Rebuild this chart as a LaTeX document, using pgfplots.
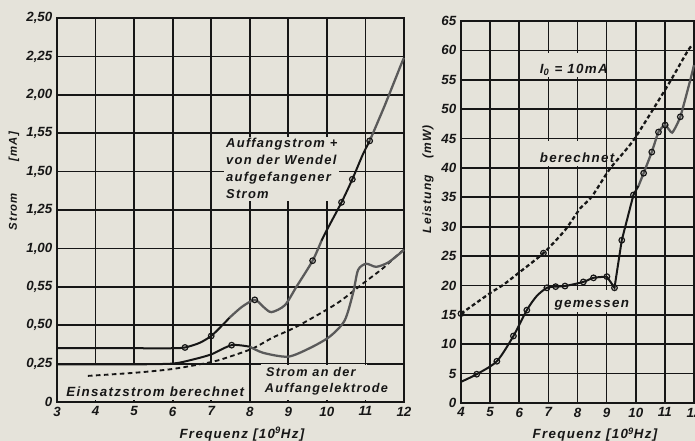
\documentclass[border=0pt]{standalone}
\usepackage{fontspec}
\setmainfont{Liberation Sans}
\usepackage{pgfplots}
\pgfplotsset{compat=1.18}
\definecolor{paper}{RGB}{229,227,218}
\definecolor{ink}{RGB}{22,22,22}
\definecolor{faded}{RGB}{90,90,90}
\newcommand{\lf}[2]{\fontsize{#1}{#2}\selectfont\bfseries\itshape\addfontfeature{LetterSpace=10}}
\begin{document}
\begin{tikzpicture}[x=1pt,y=1pt]
\useasboundingbox (-42.75pt,-29.25pt) rectangle (478.5pt,301.5pt);
\fill[paper] (-42.75pt,-29.25pt) rectangle (478.5pt,301.5pt);
\pgfplotsset{
  every axis/.append style={
    scale only axis, anchor=south west,
    axis line style={line width=1.6pt, ink},
    grid=major, major grid style={line width=1.3pt, ink},
    major tick length=0pt,
    tick label style={font=\fontsize{10}{12}\selectfont\bfseries\itshape, text=ink},
    /pgf/number format/assume math mode=true,
    clip=false,
  },
  curve/.style={line width=1.5pt, ink, smooth, tension=0.45},
  fcurve/.style={line width=1.7pt, faded, smooth, tension=0.45},
  rings/.style={only marks, mark=o, mark size=2.1pt, mark options={line width=0.9pt, draw=ink, fill=paper}},
}
% ---------------- left panel ----------------
\begin{axis}[at={(0pt,0pt)}, width=260.25pt, height=288pt,
  xmin=3, xmax=12, ymin=0, ymax=2.5,
  xtick={3,4,5,6,7,8,9,10,11,12},
  ytick={0,0.25,0.5,0.75,1,1.25,1.5,1.75,2,2.25,2.5},
  yticklabels={0,{0,25},{0,50},{0,55},{1,00},{1,25},{1,50},{1,55},{2,00},{2,25},{2,50}},
  xlabel={Frequenz [10\textsuperscript{9}Hz]},
  xlabel style={at={(axis description cs:0.533,-0.083)}, anchor=center, font=\lf{10}{12}, text=ink},
  ylabel={Strom\hspace{24pt}[mA]},
  ylabel style={at={(axis description cs:-0.124,0.575)}, anchor=center, font=\lf{8.5}{10}, text=ink},
]
\fill[paper] (axis cs:3.03,0.012) rectangle (axis cs:7.97,0.24);
\fill[paper] (axis cs:8.03,0.012) rectangle (axis cs:11.97,0.24);
\draw[line width=1.4pt, ink] (axis cs:3,0.245) -- (axis cs:8.3,0.245);
\draw[line width=1.4pt, ink] (axis cs:11.05,0.245) -- (axis cs:12,0.245);
\node[anchor=base west, font=\lf{10}{12}, text=ink] at (axis cs:3.12,0.035) {Einsatzstrom berechnet};
\node[anchor=base west, font=\lf{9.5}{12}, text=ink] at (axis cs:8.3,0.163) {Strom an der};
\node[anchor=base west, font=\lf{9.5}{12}, text=ink] at (axis cs:8.27,0.059) {Auffangelektrode};
\node[fill=paper, inner sep=1.5pt, anchor=north west, align=left, font=\lf{9.7}{12.75}, text=ink] at (axis cs:7.33,1.73)
  {Auffangstrom +\\von der Wendel\\aufgefangener\\Strom};
% dashed: Einsatzstrom berechnet
\addplot[line width=1.4pt, ink, dash pattern=on 3.5pt off 2.5pt, smooth, tension=0.45] coordinates {
 (3.8,0.17) (5,0.19) (6,0.215) (7,0.26) (7.48,0.295) (8.09,0.35) (8.6,0.42) (9.21,0.49)
 (10.25,0.64) (10.98,0.78) (11.45,0.87) (11.89,0.97) (12,0.99)};
% lower solid: Strom an der Auffangelektrode
\addplot[curve] coordinates {(3,0.245) (4,0.245) (5,0.245) (6,0.25) (6.5,0.275) (7,0.31) (7.53,0.37) (8,0.36)};
\addplot[fcurve] coordinates {(8,0.36) (8.35,0.32) (8.99,0.295) (9.55,0.35) (10.07,0.425) (10.46,0.53)
 (10.68,0.71) (10.81,0.86) (11.02,0.9) (11.28,0.88) (11.6,0.91) (12,0.99)};
\addplot[rings] coordinates {(7.53,0.37)};
% upper solid: Auffangstrom + Wendelstrom
\addplot[curve] coordinates {(3,0.35) (4,0.35) (5,0.35) (6,0.35) (6.32,0.355) (6.7,0.385) (7,0.43) (7.25,0.49) (7.48,0.55)};
\addplot[fcurve] coordinates {(7.48,0.55) (7.8,0.62) (8.13,0.665) (8.35,0.62) (8.56,0.585) (8.91,0.63) (9.21,0.75) (9.63,0.92) (9.86,1.05)};
\addplot[curve] coordinates {(9.86,1.05) (10,1.12) (10.38,1.3) (10.66,1.45) (10.93,1.61) (11.11,1.7)};
\addplot[fcurve] coordinates {(11.11,1.7) (11.5,1.93) (11.93,2.2) (12,2.24)};
\addplot[rings] coordinates {(6.32,0.355) (7,0.43) (8.13,0.665) (9.63,0.92) (10.38,1.3) (10.66,1.45) (11.11,1.7)};
\end{axis}
% ---------------- right panel ----------------
\begin{axis}[at={(303pt,-0.75pt)}, width=174.75pt, height=286.5pt,
  xmin=4, xmax=12, ymin=0, ymax=65,
  xtick={4,5,6,7,8,9,10,11,12},
  ytick={0,5,10,15,20,25,30,35,40,45,50,55,60,65},
  xlabel={Frequenz [10\textsuperscript{9}Hz]},
  xlabel style={at={(axis description cs:0.575,-0.083)}, anchor=center, font=\lf{10}{12}, text=ink},
  ylabel={Leistung\hspace{12pt}(mW)},
  ylabel style={at={(axis description cs:-0.142,0.586)}, anchor=center, font=\lf{9}{10}, text=ink},
]
\fill[paper] (axis cs:6.45,55.4) rectangle (axis cs:8.97,59.6);
\node[anchor=base west, font=\lf{10}{12}, text=ink] at (axis cs:6.55,56) {I\textsubscript{0} = 10mA};
\fill[paper] (axis cs:6.45,40.4) rectangle (axis cs:8.97,44.6);
\node[anchor=base west, font=\lf{10}{12}, text=ink] at (axis cs:6.55,41) {berechnet};
\fill[paper] (axis cs:7.03,15.4) rectangle (axis cs:9.75,19.3);
\node[anchor=base west, font=\lf{10}{12}, text=ink] at (axis cs:7.05,16.3) {gemessen};
% berechnet (dashed)
\addplot[line width=1.7pt, ink, dash pattern=on 3pt off 2pt, smooth, tension=0.4] coordinates {
 (4,15.2) (5,18.7) (5.45,20.1) (5.97,22.1) (6.83,25.5) (7.57,29.4) (8.09,33.1) (8.49,35.1) (9.12,39.9)
 (9.92,44.7) (11.07,53.8) (11.76,59.7) (11.95,61)};
\addplot[rings] coordinates {(6.83,25.5)};
% gemessen
\addplot[curve] coordinates {(4,3.6) (4.54,4.9) (5.23,7.1) (5.8,11.4) (6.26,15.8) (6.6,18.2) (6.95,19.6) (7.25,19.8) (7.57,19.9) (8.2,20.6) (8.55,21.3) (9.01,21.5)};
\addplot[line width=1.5pt, ink] coordinates {(9.01,21.5) (9.27,19.6) (9.52,27.7) (9.92,35.4) (10.1,37)};
\addplot[fcurve, tension=0.3] coordinates {(10.1,37) (10.27,39.1) (10.55,42.7) (10.78,46.1) (11.01,47.3) (11.25,46) (11.53,48.7) (11.87,54.9) (12,57.5)};
\addplot[rings] coordinates {(4,15.2) (4.54,4.9) (5.23,7.1) (5.8,11.4) (6.26,15.8) (6.95,19.6) (7.25,19.8) (7.57,19.9) (8.2,20.6) (8.55,21.3) (9.01,21.5)
 (9.27,19.6) (9.52,27.7) (9.92,35.4) (10.27,39.1) (10.55,42.7) (10.78,46.1) (11.01,47.3) (11.53,48.7)};
\end{axis}
\end{tikzpicture}
\end{document}
